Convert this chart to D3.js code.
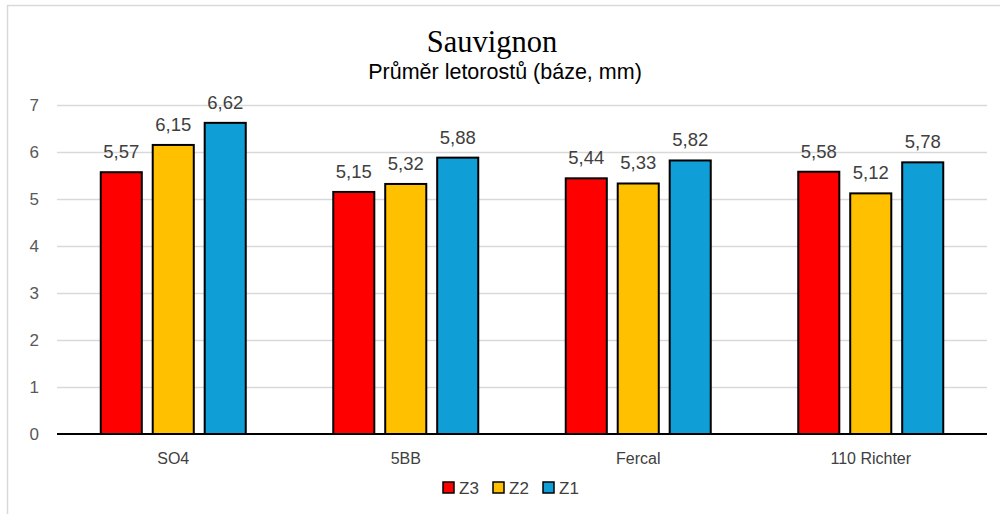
<!DOCTYPE html>
<html>
<head>
<meta charset="utf-8">
<script src="https://cdn.jsdelivr.net/npm/d3@7"></script>
<style>
  body { margin: 0; background: #fff; }
  svg { display: block; }
</style>
</head>
<body>
<div id="chart"></div>
<script>
const categories = ["SO4", "5BB", "Fercal", "110 Richter"];
const seriesNames = ["Z3", "Z2", "Z1"];
const z3Values = [5.57, 5.15, 5.44, 5.58];
const z2Values = [6.15, 5.32, 5.33, 5.12];
const z1Values = [6.62, 5.88, 5.82, 5.78];
const yTicks = [0, 1, 2, 3, 4, 5, 6, 7];

const colors = { Z3: "#ff0000", Z2: "#ffc000", Z1: "#0f9ed5" };
const valuesBySeries = { Z3: z3Values, Z2: z2Values, Z1: z1Values };

const width = 1000, height = 514;
const margin = { top: 105, right: 13, bottom: 80, left: 57 };

const csLocale = d3.formatLocale({ decimal: ",", thousands: " ", grouping: [3], currency: ["", " Kč"] });
const fmt = csLocale.format(".2f");

const svg = d3.select("#chart")
    .append("svg")
    .attr("width", width)
    .attr("height", height);

// chart frame (cropped at right / bottom)
svg.append("rect")
    .attr("x", 7.5).attr("y", 5.5)
    .attr("width", 1100).attr("height", 600)
    .style("fill", "none")
    .style("stroke", "#d9d9d9")
    .style("stroke-width", 1.5);

const x0 = d3.scaleBand()
    .domain(categories)
    .range([margin.left, width - margin.right])
    .padding(0);

const groupW = 145;
const x1 = d3.scaleBand()
    .domain(seriesNames)
    .range([(x0.bandwidth() - groupW) / 2, (x0.bandwidth() + groupW) / 2])
    .paddingInner(0.21);

const y = d3.scaleLinear()
    .domain([0, 7])
    .range([height - margin.bottom, margin.top]);

// gridlines
svg.append("g")
    .selectAll("line")
    .data(yTicks.filter(d => d > 0))
    .enter().append("line")
    .attr("x1", margin.left).attr("x2", width - margin.right)
    .attr("y1", d => y(d) + 0.5).attr("y2", d => y(d) + 0.5)
    .style("stroke", "#d9d9d9")
    .style("stroke-width", 1.5);

// y axis labels
const yAxis = d3.axisLeft(y).tickValues(yTicks).tickFormat(d3.format("d")).tickSize(0).tickPadding(0);
const yg = svg.append("g")
    .attr("transform", "translate(" + (margin.left - 18) + ",0)")
    .call(yAxis);
yg.select(".domain").remove();
yg.selectAll("text")
    .style("font-family", "'Liberation Sans', Arial, sans-serif")
    .style("font-size", "17px")
    .style("fill", "#595959");

// bars
const rows = categories.map((c, i) => ({ cat: c, vals: seriesNames.map(s => ({ s: s, v: valuesBySeries[s][i] })) }));

const groups = svg.append("g")
    .selectAll("g")
    .data(rows)
    .enter().append("g")
    .attr("transform", d => "translate(" + x0(d.cat) + ",0)");

groups.selectAll("rect")
    .data(d => d.vals)
    .enter().append("rect")
    .attr("x", d => x1(d.s))
    .attr("y", d => y(d.v))
    .attr("width", x1.bandwidth())
    .attr("height", d => y(0) - y(d.v))
    .style("fill", d => colors[d.s])
    .style("stroke", "#000")
    .style("stroke-width", 2);

groups.selectAll("text")
    .data(d => d.vals)
    .enter().append("text")
    .attr("x", d => x1(d.s) + x1.bandwidth() / 2)
    .attr("y", d => y(d.v) - 14)
    .attr("text-anchor", "middle")
    .style("font-family", "'Liberation Sans', Arial, sans-serif")
    .style("font-size", "18.5px")
    .style("fill", "#404040")
    .text(d => fmt(d.v));

// baseline
svg.append("line")
    .attr("x1", margin.left).attr("x2", width - margin.right)
    .attr("y1", y(0)).attr("y2", y(0))
    .style("stroke", "#000")
    .style("stroke-width", 2);

// x axis labels
const xAxis = d3.axisBottom(x0).tickSize(0).tickPadding(0);
const xg = svg.append("g")
    .attr("transform", "translate(0," + (y(0) + 19) + ")")
    .call(xAxis);
xg.select(".domain").remove();
xg.selectAll("text")
    .style("font-family", "'Liberation Sans', Arial, sans-serif")
    .style("font-size", "16px")
    .style("fill", "#404040");

// titles
svg.append("text")
    .attr("x", 492).attr("y", 52)
    .attr("text-anchor", "middle")
    .style("font-family", "'Liberation Serif', 'Times New Roman', serif")
    .style("font-size", "30.5px")
    .style("fill", "#000")
    .text("Sauvignon");

svg.append("text")
    .attr("x", 505).attr("y", 79)
    .attr("text-anchor", "middle")
    .style("font-family", "'Liberation Sans', Arial, sans-serif")
    .style("font-size", "21.5px")
    .style("fill", "#000")
    .text("Průměr letorostů (báze, mm)");

// legend
const legend = svg.append("g")
    .attr("transform", "translate(443,482)");
const items = legend.selectAll("g")
    .data(seriesNames)
    .enter().append("g")
    .attr("transform", (d, i) => "translate(" + (i * 50) + ",0)");
items.append("rect")
    .attr("width", 11).attr("height", 11)
    .style("fill", d => colors[d])
    .style("stroke", "#000")
    .style("stroke-width", 1.5);
items.append("text")
    .attr("x", 16).attr("y", 12)
    .style("font-family", "'Liberation Sans', Arial, sans-serif")
    .style("font-size", "17px")
    .style("fill", "#404040")
    .text(d => d);
</script>
</body>
</html>
